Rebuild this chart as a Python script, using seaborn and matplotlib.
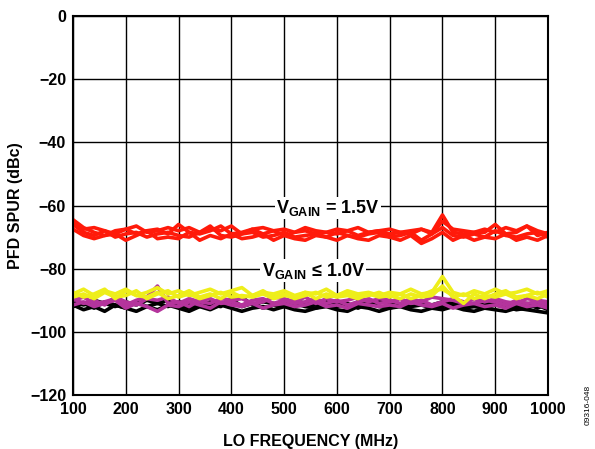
import matplotlib
matplotlib.use("Agg")
import matplotlib.pyplot as plt
import seaborn as sns
import pandas as pd

freq = [100, 120, 140, 160, 180, 200, 220, 240, 260, 280,
        300, 320, 340, 360, 380, 400, 420, 440, 460, 480,
        500, 520, 540, 560, 580, 600, 620, 640, 660, 680,
        700, 720, 740, 760, 780, 800, 820, 840, 860, 880,
        900, 920, 940, 960, 980, 1000]

red_a = [-64.5, -67.0, -68.5, -69.5, -68.0, -67.5, -69.0, -68.0, -67.5, -69.0,
         -66.0, -68.5, -69.0, -68.0, -66.5, -69.0, -68.5, -67.5, -69.0, -68.0,
         -69.5, -68.5, -68.0, -69.0, -68.5, -69.0, -68.0, -69.5, -68.5, -68.0,
         -69.0, -68.5, -69.0, -67.5, -68.5, -63.0, -68.5, -69.0, -68.5, -68.5,
         -66.0, -69.0, -68.5, -66.5, -69.5, -68.5]
red_b = [-66.0, -68.5, -69.5, -68.0, -70.0, -69.0, -68.5, -70.0, -69.0, -68.5,
         -69.5, -70.0, -68.5, -66.5, -69.5, -70.0, -69.0, -68.5, -70.0, -69.5,
         -68.5, -70.0, -69.5, -69.0, -70.0, -68.5, -69.5, -70.0, -69.0, -68.5,
         -70.0, -69.5, -68.5, -71.0, -69.0, -67.0, -69.5, -70.0, -69.0, -70.0,
         -68.0, -69.5, -70.0, -69.0, -68.5, -70.0]
red_c = [-67.5, -69.5, -70.5, -69.5, -69.0, -71.0, -69.5, -68.0, -70.5, -70.0,
         -70.5, -68.5, -71.0, -69.5, -70.5, -69.0, -70.5, -70.0, -69.0, -71.0,
         -69.5, -70.5, -71.0, -69.5, -70.0, -71.0, -69.5, -70.5, -71.0, -69.5,
         -70.0, -71.0, -69.5, -72.0, -70.5, -68.5, -71.0, -69.5, -71.0, -70.0,
         -70.5, -69.0, -71.0, -70.0, -71.0, -69.5]
red_d = [-65.0, -67.5, -67.0, -68.0, -69.0, -67.5, -66.5, -68.5, -68.0, -67.0,
         -68.0, -67.0, -68.5, -67.5, -68.0, -66.5, -69.0, -67.5, -67.0, -68.0,
         -67.5, -68.5, -67.0, -68.0, -68.5, -67.5, -68.0, -67.0, -68.5, -68.0,
         -67.5, -68.5, -68.0, -67.5, -69.0, -65.0, -67.5, -68.0, -68.5, -67.5,
         -68.5, -67.0, -68.0, -66.5, -68.0, -69.0]

yel_a = [-88.0, -86.5, -88.5, -87.0, -88.0, -86.5, -88.5, -87.5, -86.0, -88.0,
         -87.0, -88.5, -87.5, -86.5, -88.0, -87.0, -86.0, -88.5, -87.5, -88.0,
         -87.0, -88.5, -87.5, -88.0, -86.5, -88.5, -87.0, -88.0, -87.5, -88.5,
         -87.5, -88.0, -86.5, -88.0, -87.5, -82.5, -87.5, -88.5, -87.0, -88.0,
         -86.5, -88.0, -87.5, -86.5, -88.0, -87.0]
yel_b = [-89.0, -88.0, -89.5, -87.5, -89.0, -88.5, -87.0, -89.5, -88.0, -87.0,
         -89.0, -88.0, -89.5, -88.5, -87.5, -89.0, -88.5, -89.0, -88.0, -89.5,
         -88.5, -89.0, -87.5, -89.5, -88.0, -89.0, -88.5, -89.5, -88.0, -89.0,
         -88.5, -89.5, -88.0, -89.0, -88.5, -85.5, -89.0, -88.0, -89.5, -88.5,
         -89.0, -88.0, -89.5, -88.5, -87.5, -89.0]
yel_c = [-87.5, -89.0, -88.0, -86.5, -89.5, -87.0, -88.5, -89.0, -87.5, -89.5,
         -88.5, -87.0, -89.0, -88.0, -89.5, -87.5, -89.0, -88.5, -87.0, -89.0,
         -88.0, -89.5, -88.5, -87.5, -89.0, -88.5, -87.5, -89.0, -88.5, -87.5,
         -89.0, -88.0, -89.5, -88.5, -87.0, -86.5, -88.5, -91.0, -88.0, -89.5,
         -88.0, -87.0, -89.0, -88.5, -89.5, -88.0]

mag_a = [-90.0, -89.0, -91.0, -90.5, -89.5, -91.5, -90.0, -89.0, -85.5, -91.0,
         -90.5, -92.0, -90.0, -89.5, -91.0, -90.5, -91.5, -90.0, -89.5, -91.0,
         -90.0, -91.0, -90.5, -89.5, -91.0, -90.0, -91.5, -90.5, -89.5, -91.0,
         -90.5, -89.5, -91.0, -90.0, -91.5, -90.5, -89.5, -90.5, -91.0, -90.0,
         -90.5, -91.5, -90.0, -91.0, -90.5, -91.5]
mag_b = [-91.5, -90.5, -92.0, -91.0, -90.0, -92.5, -91.0, -92.0, -93.5, -91.5,
         -92.0, -90.5, -91.5, -92.5, -90.5, -91.5, -92.0, -91.0, -92.5, -91.5,
         -91.0, -92.0, -91.5, -90.5, -92.0, -91.5, -92.5, -91.0, -91.5, -92.0,
         -91.5, -92.0, -90.5, -91.5, -92.0, -91.0, -92.5, -91.5, -91.0, -92.0,
         -91.5, -92.5, -91.0, -92.0, -91.5, -92.5]
mag_c = [-89.5, -91.0, -90.0, -91.5, -89.0, -90.5, -91.5, -89.5, -90.0, -89.0,
         -91.0, -89.5, -90.5, -91.0, -89.5, -90.0, -89.5, -91.0, -90.5, -89.0,
         -89.5, -90.5, -89.0, -91.0, -89.5, -90.5, -90.0, -89.0, -90.5, -89.5,
         -90.0, -91.0, -89.5, -90.5, -89.0, -89.5, -90.0, -91.0, -89.5, -90.5,
         -89.5, -90.5, -91.0, -89.5, -90.0, -90.5]

blk_a = [-91.5, -93.0, -92.0, -93.5, -91.5, -92.5, -93.5, -92.0, -93.0, -91.5,
         -92.5, -93.5, -92.0, -93.0, -91.5, -92.5, -93.5, -92.5, -92.0, -93.0,
         -92.0, -93.0, -93.5, -92.5, -92.0, -93.0, -93.5, -92.0, -92.5, -93.5,
         -92.5, -92.0, -93.0, -93.5, -92.5, -93.0, -92.0, -93.0, -93.5, -92.5,
         -93.0, -93.5, -92.5, -93.0, -93.5, -94.0]
blk_b = [-90.5, -91.5, -90.0, -91.0, -92.0, -90.5, -91.5, -90.0, -91.0, -92.0,
         -90.5, -91.0, -92.0, -90.5, -91.5, -90.0, -89.0, -91.5, -90.5, -91.0,
         -91.5, -90.0, -91.0, -91.5, -90.5, -91.0, -92.0, -90.5, -91.5, -90.0,
         -91.0, -92.0, -90.5, -91.0, -91.5, -90.5, -91.0, -92.0, -91.0, -91.5,
         -90.5, -91.5, -92.0, -91.0, -92.5, -91.0]
blk_c = [-92.0, -91.0, -92.5, -90.5, -91.5, -92.5, -90.5, -92.0, -91.0, -90.0,
         -91.5, -92.5, -91.0, -91.5, -92.0, -89.5, -92.0, -91.0, -92.5, -91.5,
         -92.0, -91.0, -92.0, -92.5, -91.5, -92.0, -91.0, -92.5, -91.0, -92.0,
         -92.5, -91.5, -92.0, -91.5, -92.5, -92.0, -91.0, -92.5, -92.0, -92.5,
         -91.5, -92.0, -93.0, -92.5, -91.5, -93.0]

traces = {
    "blk_a": blk_a, "blk_b": blk_b, "blk_c": blk_c,
    "mag_a": mag_a, "mag_b": mag_b, "mag_c": mag_c,
    "yel_a": yel_a, "yel_b": yel_b, "yel_c": yel_c,
    "red_a": red_a, "red_b": red_b, "red_c": red_c, "red_d": red_d,
}
group_colors = {"red": "#FF1A0A", "yel": "#EEEE1A", "mag": "#B4349C", "blk": "#000000"}

xticks = [100, 200, 300, 400, 500, 600, 700, 800, 900, 1000]
yticks = [0, -20, -40, -60, -80, -100, -120]

rows = []
for name, vals in traces.items():
    for f, v in zip(freq, vals):
        rows.append({"freq": f, "spur": v, "trace": name})
df = pd.DataFrame(rows)
palette = {name: group_colors[name[:3]] for name in traces}

sns.set_theme(style="white")
plt.rcParams["font.family"] = ["Liberation Sans", "DejaVu Sans"]
plt.rcParams["mathtext.fontset"] = "custom"
plt.rcParams["mathtext.rm"] = "Liberation Sans:bold"
plt.rcParams["mathtext.bf"] = "Liberation Sans:bold"
plt.rcParams["text.color"] = "black"
plt.rcParams["axes.labelcolor"] = "black"
plt.rcParams["xtick.color"] = "black"
plt.rcParams["ytick.color"] = "black"

fig = plt.figure(figsize=(5.95, 4.49), dpi=100)
ax = fig.add_axes([73 / 595, 1 - 395 / 449, 475 / 595, 379 / 449])

sns.lineplot(data=df, x="freq", y="spur", hue="trace", palette=palette,
             hue_order=list(traces.keys()), estimator=None, sort=False,
             linewidth=2.6, legend=False, ax=ax)

ax.set_xlim(100, 1000)
ax.set_ylim(-120, 0)
ax.set_xticks(xticks)
ax.set_yticks(yticks)
ax.set_xticklabels([str(t) for t in xticks], fontweight="bold", fontsize=11.5,
                   color="black")
ax.set_yticklabels([("\u2212" + str(-t)) if t < 0 else str(t) for t in yticks],
                   fontweight="bold", fontsize=11.5, color="black")
ax.tick_params(length=0, pad=5)
ax.grid(True, color="black", linewidth=1.0)
ax.set_axisbelow(True)
for s in ax.spines.values():
    s.set_color("black")
    s.set_linewidth(1.5)

ax.set_xlabel("LO FREQUENCY (MHz)", fontweight="bold", fontsize=11.5, labelpad=12,
              color="black")
ax.set_ylabel("PFD SPUR (dBc)", fontweight="bold", fontsize=11.5, labelpad=5,
              color="black")

bbox = dict(facecolor="white", edgecolor="none", pad=1.0)
ax.text(583, -60.8, r"V$_{\mathrm{GAIN}}$ = 1.5V", fontsize=13, fontweight="bold",
        ha="center", va="center", bbox=bbox, zorder=5, color="black")
ax.text(555, -80.6, "V$_{\\mathrm{GAIN}}$ \u2264 1.0V", fontsize=13, fontweight="bold",
        ha="center", va="center", bbox=bbox, zorder=5, color="black")

fig.text(588 / 595, 1 - 405 / 449, "09316-048", rotation=90, fontsize=6,
         ha="center", va="center", color="black")

fig.savefig("out.png", dpi=100)
